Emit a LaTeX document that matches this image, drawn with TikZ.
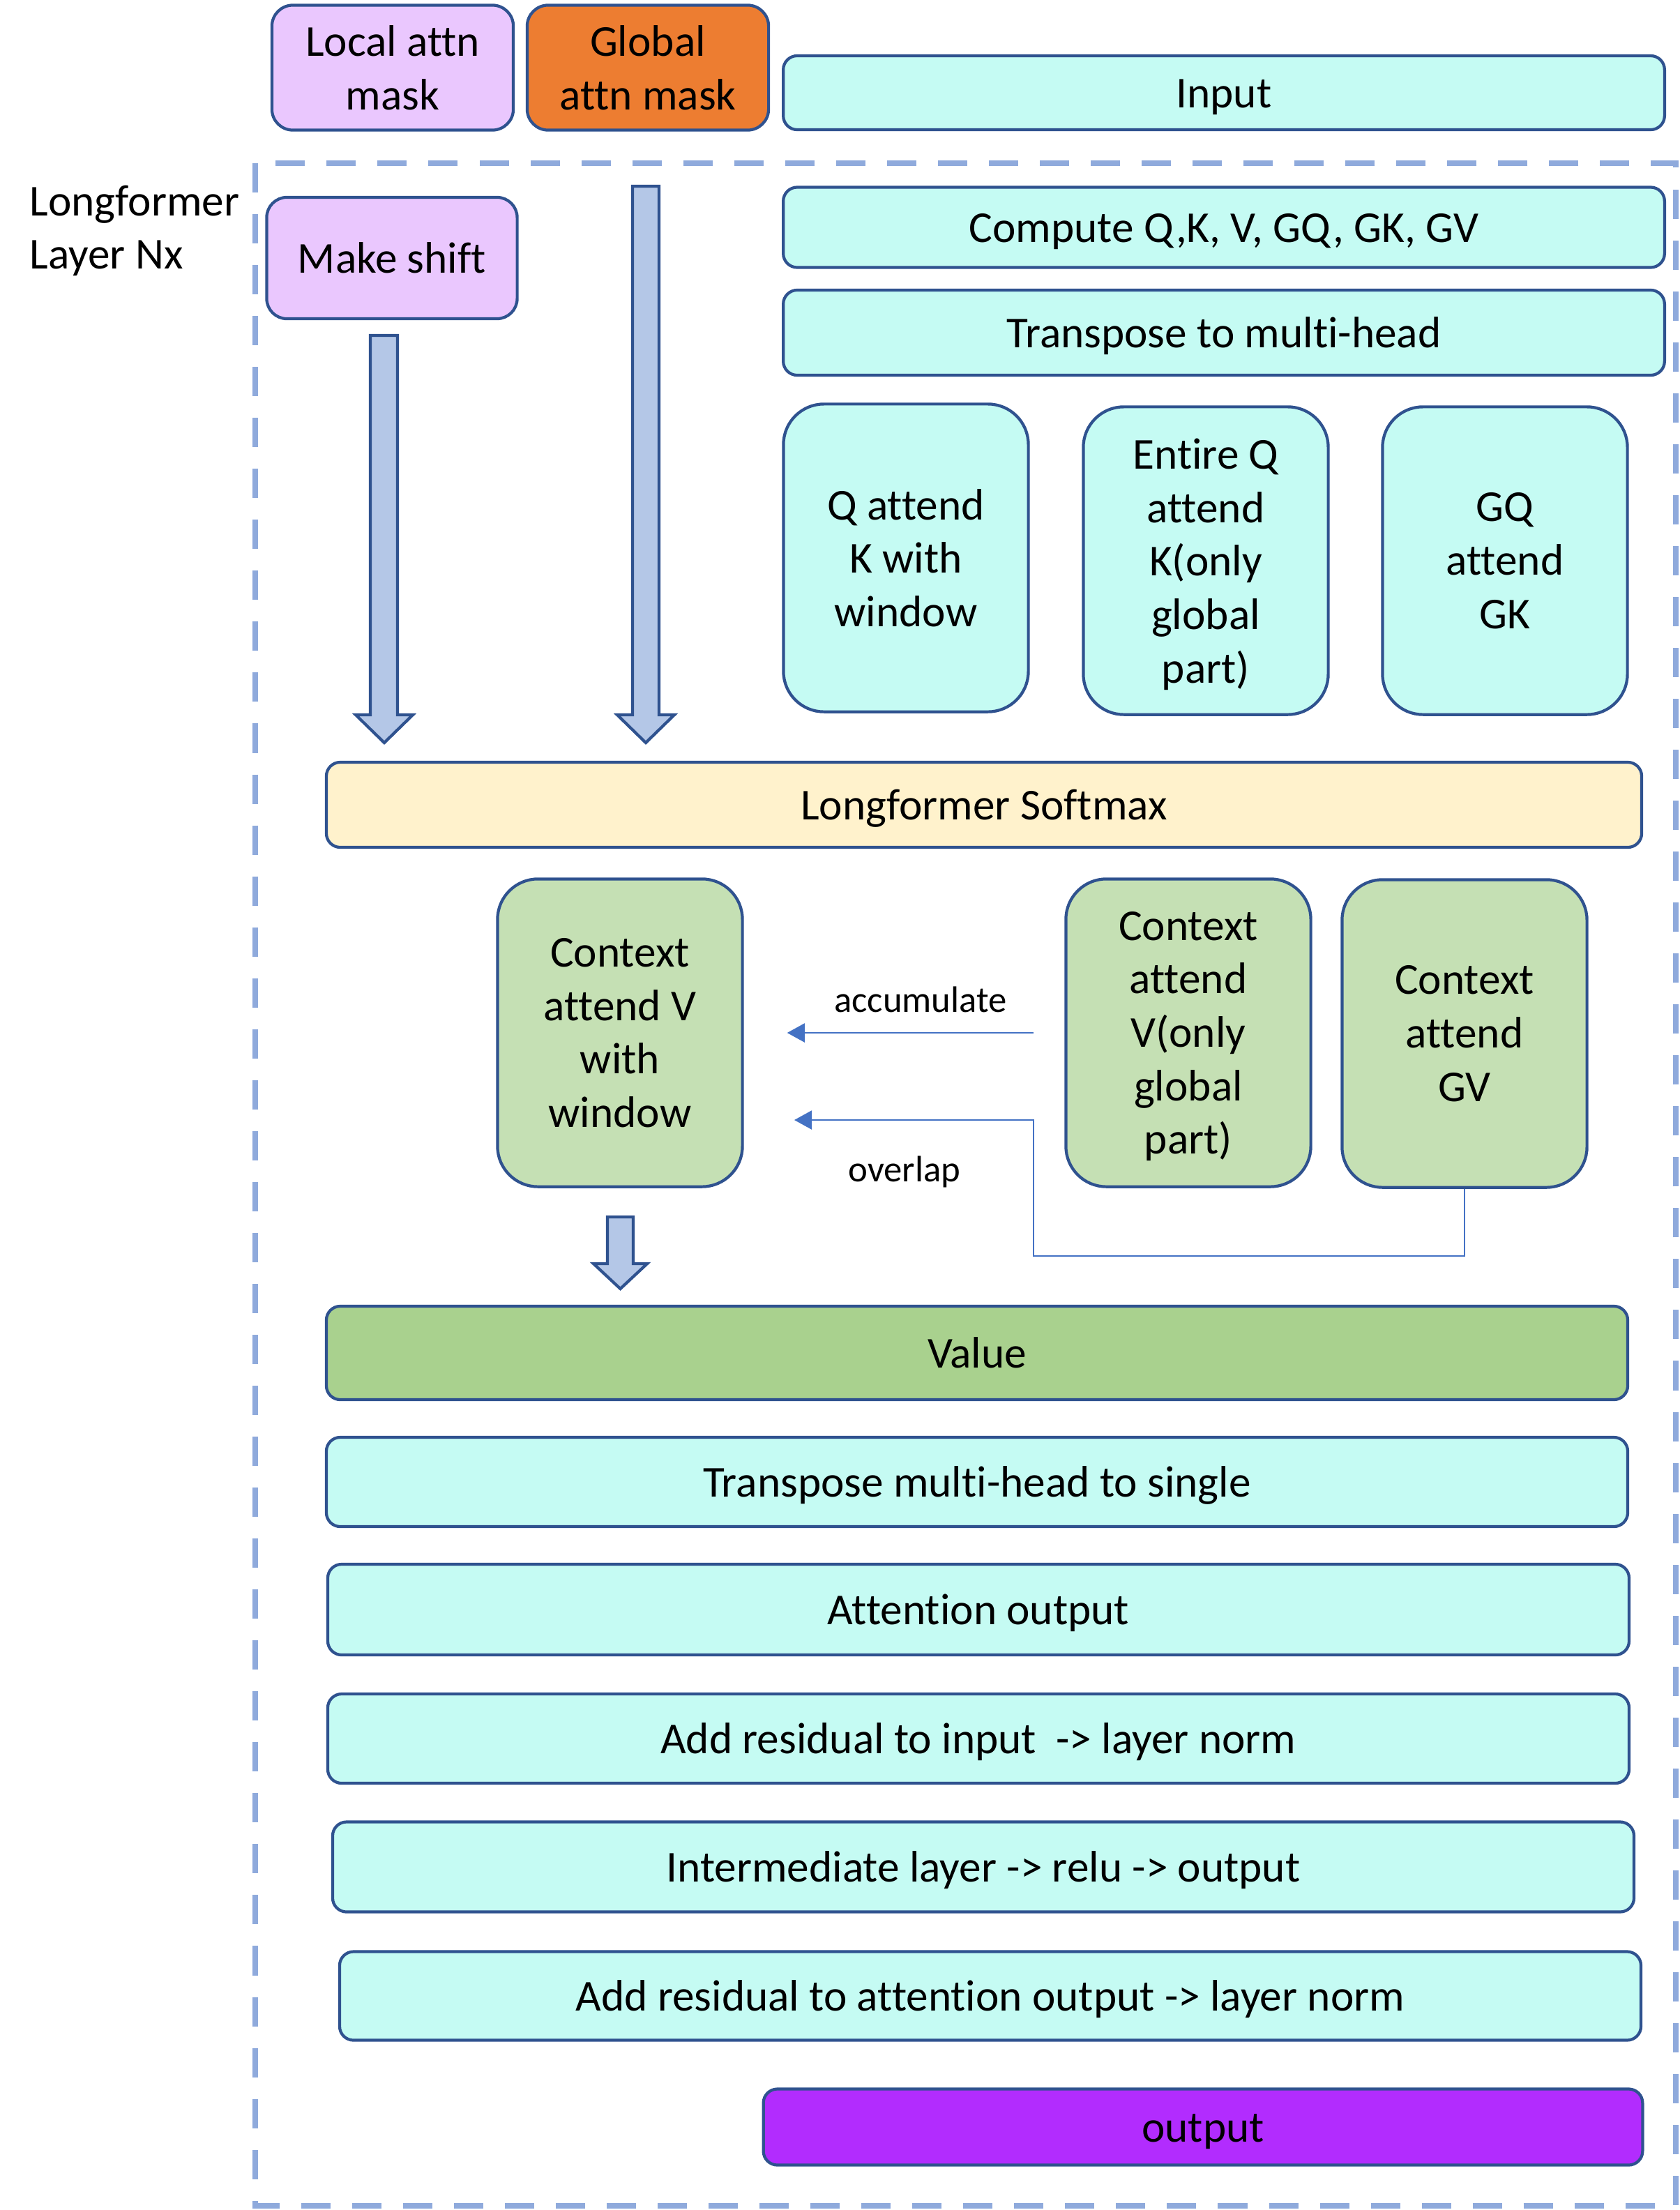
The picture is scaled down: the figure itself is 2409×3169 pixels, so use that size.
\documentclass[tikz,border=0pt]{standalone}
\usepackage{fontspec}
\setmainfont{Carlito}[Ligatures={NoCommon}]
\usetikzlibrary{arrows.meta}

\definecolor{boxline}{HTML}{2F528F}
\definecolor{framecol}{HTML}{8FAADC}
\definecolor{linkcol}{HTML}{4472C4}
\definecolor{maskpink}{HTML}{EAC7FE}
\definecolor{maskorange}{HTML}{ED7D31}
\definecolor{stepcyan}{HTML}{C5FBF3}
\definecolor{softyellow}{HTML}{FFF2CC}
\definecolor{ctxgreen}{HTML}{C5E0B4}
\definecolor{valgreen}{HTML}{A9D18E}
\definecolor{outpurple}{HTML}{B22CFE}
\definecolor{arrowfill}{HTML}{B4C7E7}

\begin{document}
\begin{tikzpicture}[x=0.01cm,y=-0.01cm,
    box/.style={draw=boxline,line width=1.2pt,rounded corners=0.2cm,inner sep=0pt,align=center,
      text depth=0pt,font=\fontsize{18pt}{21.8pt}\selectfont},
    oneline/.style={box,text height=12.4pt},
    maskbox/.style={box,rounded corners=0.3cm,minimum width=3.46cm,minimum height=1.79cm},
    tallbox/.style={box,rounded corners=0.58cm,minimum width=3.51cm,minimum height=4.41cm},
    rowbox/.style={oneline,fill=stepcyan,minimum width=18.65cm,minimum height=1.28cm},
    topbox/.style={oneline,fill=stepcyan,minimum width=12.63cm},
    blockarrow/.style={draw=boxline,fill=arrowfill,line width=1.2pt,line join=miter},
    link/.style={draw=linkcol,line width=0.6pt,-{Triangle[length=0.25cm,width=0.27cm]}},
    note/.style={font=\fontsize{15pt}{18pt}\selectfont}]

  \useasboundingbox (0,0) rectangle (2409,3169);

  % layer frame
  \draw[framecol,line width=2.4pt,dash pattern=on 0.42cm off 0.31cm] (366,234) rectangle (2403,3163);

  % masks and input
  \node (lattn) at (563,97) [maskbox,fill=maskpink] {Local attn\\mask};
  \node (gattn) at (929,97) [maskbox,fill=maskorange] {Global\\attn mask};
  \node (input) at (1755,133) [topbox,minimum height=1.06cm] {Input};

  \node (layer) at (42,331) [anchor=west,inner sep=0pt,align=left,
    font=\fontsize{18pt}{21.8pt}\selectfont] {Longformer\\Layer Nx};
  \node (shift) at (562,370) [oneline,fill=maskpink,rounded corners=0.29cm,
    minimum width=3.59cm,minimum height=1.74cm] {Make shift};

  % attention scores
  \node (qkv) at (1755,326) [topbox,minimum height=1.15cm] {Compute Q,K, V, GQ, GK, GV};
  \node (trans) at (1755,477) [topbox,minimum height=1.22cm] {Transpose to multi-head};
  \node (qwin) at (1299,800) [tallbox,fill=stepcyan] {Q attend\\K with\\window};
  \node (qglob) at (1729,804) [tallbox,fill=stepcyan] {Entire Q\\attend\\K(only\\global\\part)};
  \node (gqgk) at (2158,804) [tallbox,fill=stepcyan] {GQ\\attend\\GK};

  \node (softmax) at (1411,1154) [oneline,fill=softyellow,minimum width=18.85cm,
    minimum height=1.22cm] {Longformer Softmax};

  % block arrows
  \draw[blockarrow] (531,481) -- (570,481) -- (570,1025) -- (592,1025) -- (551,1065)
    -- (510,1025) -- (531,1025) -- cycle;
  \draw[blockarrow] (907,267) -- (945,267) -- (945,1025) -- (967,1025) -- (926,1065)
    -- (885,1025) -- (907,1025) -- cycle;

  % context
  \node (ctxw) at (889,1481) [tallbox,fill=ctxgreen] {Context\\attend V\\with\\window};
  \node (ctxg) at (1704,1481) [tallbox,fill=ctxgreen] {Context\\attend\\V(only\\global\\part)};
  \node (ctxgv) at (2100,1482) [tallbox,fill=ctxgreen] {Context\\attend\\GV};

  \draw[link,shorten <=0.44cm,shorten >=0.62cm] (ctxg.west) -- (ctxw.east);
  \node (acc) at (1320,1433) [note] {accumulate};
  \coordinate (ovl) at (1139,1606);
  \draw[link] (ctxgv.south) |- (1482,1801) |- (ovl);
  \node (ovlp) at (1297,1680) [note] {overlap};

  \draw[blockarrow] (871,1745) -- (908,1745) -- (908,1812) -- (928,1812) -- (889.5,1848)
    -- (851,1812) -- (871,1812) -- cycle;

  % output stack
  \node (value) at (1401,1940) [oneline,fill=valgreen,minimum width=18.65cm,
    minimum height=1.34cm] {Value};
  \node (tsingle) at (1401,2125) [rowbox] {Transpose multi-head to single};
  \node (attout) at (1403,2308) [rowbox,minimum height=1.30cm] {Attention output};
  \node (resin) at (1403,2493) [rowbox] {Add residual to input\ \ -> layer norm};
  \node (inter) at (1410,2677) [rowbox,minimum height=1.29cm] {Intermediate layer -> relu -> output};
  \node (resatt) at (1420,2862) [rowbox,minimum height=1.27cm] {Add residual to attention output -> layer norm};
  \node (out) at (1725,3050) [oneline,fill=outpurple,minimum width=12.60cm,
    minimum height=1.09cm] {output};
\end{tikzpicture}
\end{document}
